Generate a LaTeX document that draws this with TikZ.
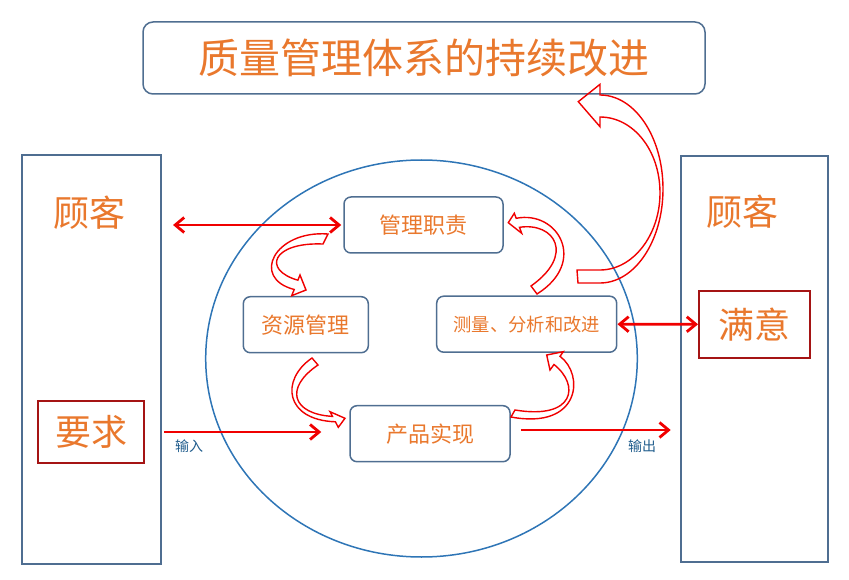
\documentclass[tikz,border=0pt]{standalone}
\usepackage{fontspec}
\newfontfamily\cjk{Noto Sans CJK SC}
\usetikzlibrary{arrows.meta,shapes.geometric,calc}
\definecolor{boxblue}{RGB}{79,110,145}
\definecolor{ellblue}{RGB}{46,117,182}
\definecolor{txtorange}{RGB}{233,120,45}
\definecolor{darkred}{RGB}{165,20,20}
\definecolor{arrred}{RGB}{240,0,0}
\definecolor{lblblue}{RGB}{31,92,140}
\begin{document}
\begin{tikzpicture}[x=1pt,y=-1pt,
  rbox/.style={draw=boxblue, line width=1.5pt, rounded corners=7pt, inner sep=0pt, text=txtorange},
  custbox/.style={draw=boxblue, line width=2pt, inner sep=0pt},
  reqbox/.style={draw=darkred, line width=2pt, inner sep=0pt, text=txtorange, font=\cjk\fontsize{36pt}{40pt}\selectfont},
  bigtxt/.style={text=txtorange, inner sep=0pt, font=\cjk\fontsize{36pt}{40pt}\selectfont},
  midtxt/.style={font=\cjk\fontsize{22pt}{26pt}\selectfont},
  lbl/.style={text=lblblue, inner sep=0pt, font=\cjk\fontsize{14pt}{16pt}\selectfont},
  redline/.style={draw=arrred, line width=2.8pt},
  barb/.tip={Straight Barb[length=9pt,width=15pt]},
  harrow/.style={draw=arrred, line width=1.4pt, line join=miter}
]
\useasboundingbox (0,0) rectangle (849,580);

% title
\node[rbox, rounded corners=10pt, minimum width=562pt, minimum height=72pt,
      font=\cjk\fontsize{41pt}{45pt}\selectfont] (title) at (424,58) {质量管理体系的持续改进};

% customers
\node[custbox, minimum width=139pt, minimum height=409pt] (lc) at (91.2,359.7) {};
\node[custbox, minimum width=147.6pt, minimum height=406pt] (rc) at (754.5,358.7) {};
\node[bigtxt] (lcname) at (89,213) {顾客};
\node[bigtxt] (rcname) at (742,212) {顾客};
\node[reqbox, minimum width=106pt, minimum height=62.6pt] (req) at (91.3,432) {要求};
\node[reqbox, minimum width=111pt, minimum height=66.7pt] (sat) at (754.5,324.3) {满意};

% system ellipse
\node[draw=ellblue, line width=1.5pt, ellipse, inner sep=0pt,
      minimum width=431.6pt, minimum height=397pt] (sys) at (421.5,358.5) {};

% process boxes
\node[rbox, midtxt, minimum width=159pt, minimum height=56pt] (mgmt) at (423.5,225) {管理职责};
\node[rbox, midtxt, minimum width=125pt, minimum height=56pt] (res) at (305.8,324.7) {资源管理};
\node[rbox, font=\cjk\fontsize{18.3pt}{22pt}\selectfont, minimum width=180pt, minimum height=56pt] (meas) at (526.7,324.2) {测量、分析和改进};
\node[rbox, midtxt, minimum width=160pt, minimum height=56pt] (prod) at (430,433.7) {产品实现};

% labels
\node[lbl] (inlbl) at (189,446) {输入};
\node[lbl] (outlbl) at (642,446) {输出};

% straight arrows
\coordinate (lcS) at ($(lc.east)+(11.3,-134.7)$);
\draw[redline, barb-barb] (lcS) -- ([xshift=-2pt]mgmt.west);
\coordinate (inS) at ($(lc.east)+(2.3,72.3)$);
\draw[redline, -barb] (inS) -- ($(prod.west)+(-28,-1.7)$);
\coordinate (outS) at ($(prod.east)+(10,-3.7)$);
\draw[redline, -barb] (outS) -- ($(rc.west)+(-9,71.3)$);
\draw[redline, barb-barb] (meas.east) -- (sat.west);

% hollow curved arrows
% mgmt -> res
\draw[harrow] (328,234) .. controls (275,230) and (250,278) .. (294.2,289.5)
  -- (291.7,295.7) -- (306,290) -- (300,275) -- (297.9,280.2)
  .. controls (262,270) and (272,242) .. (323,244) -- cycle;
% res -> prod
\draw[harrow] (312,358) .. controls (280,380) and (285,420) .. (335.4,421.8)
  -- (338.3,427.3) -- (345,418.3) -- (330,411.7) -- (332.5,416.4)
  .. controls (292,414) and (284,388) .. (318,365) -- cycle;
% prod -> meas
\draw[harrow] (511,417) .. controls (580,430) and (585,375) .. (560,356.3)
  -- (563.3,351.7) -- (546.7,355) -- (550,370) -- (554,364.5)
  .. controls (580,385) and (575,420) .. (515,410) -- cycle;
% meas -> mgmt
\draw[harrow] (537,294) .. controls (588,262) and (558,210) .. (516.2,218.3)
  -- (514.3,213.3) -- (508.3,222.7) -- (521.7,233.3) -- (519.5,227.3)
  .. controls (555,222) and (575,255) .. (531,286) -- cycle;
% meas -> title
\draw[harrow] (578,283) -- (600,283) .. controls (634.8,283) and (663,240.9) .. (663,189)
  .. controls (663,137.1) and (634.8,95) .. (600,95)
  -- (600,84.3) -- (578.3,101.7) -- (600,126.7) -- (600,117)
  .. controls (633,117) and (660,150) .. (660,193)
  .. controls (660,235) and (633,270) .. (600,270) -- (577,270) -- cycle;
\end{tikzpicture}
\end{document}
